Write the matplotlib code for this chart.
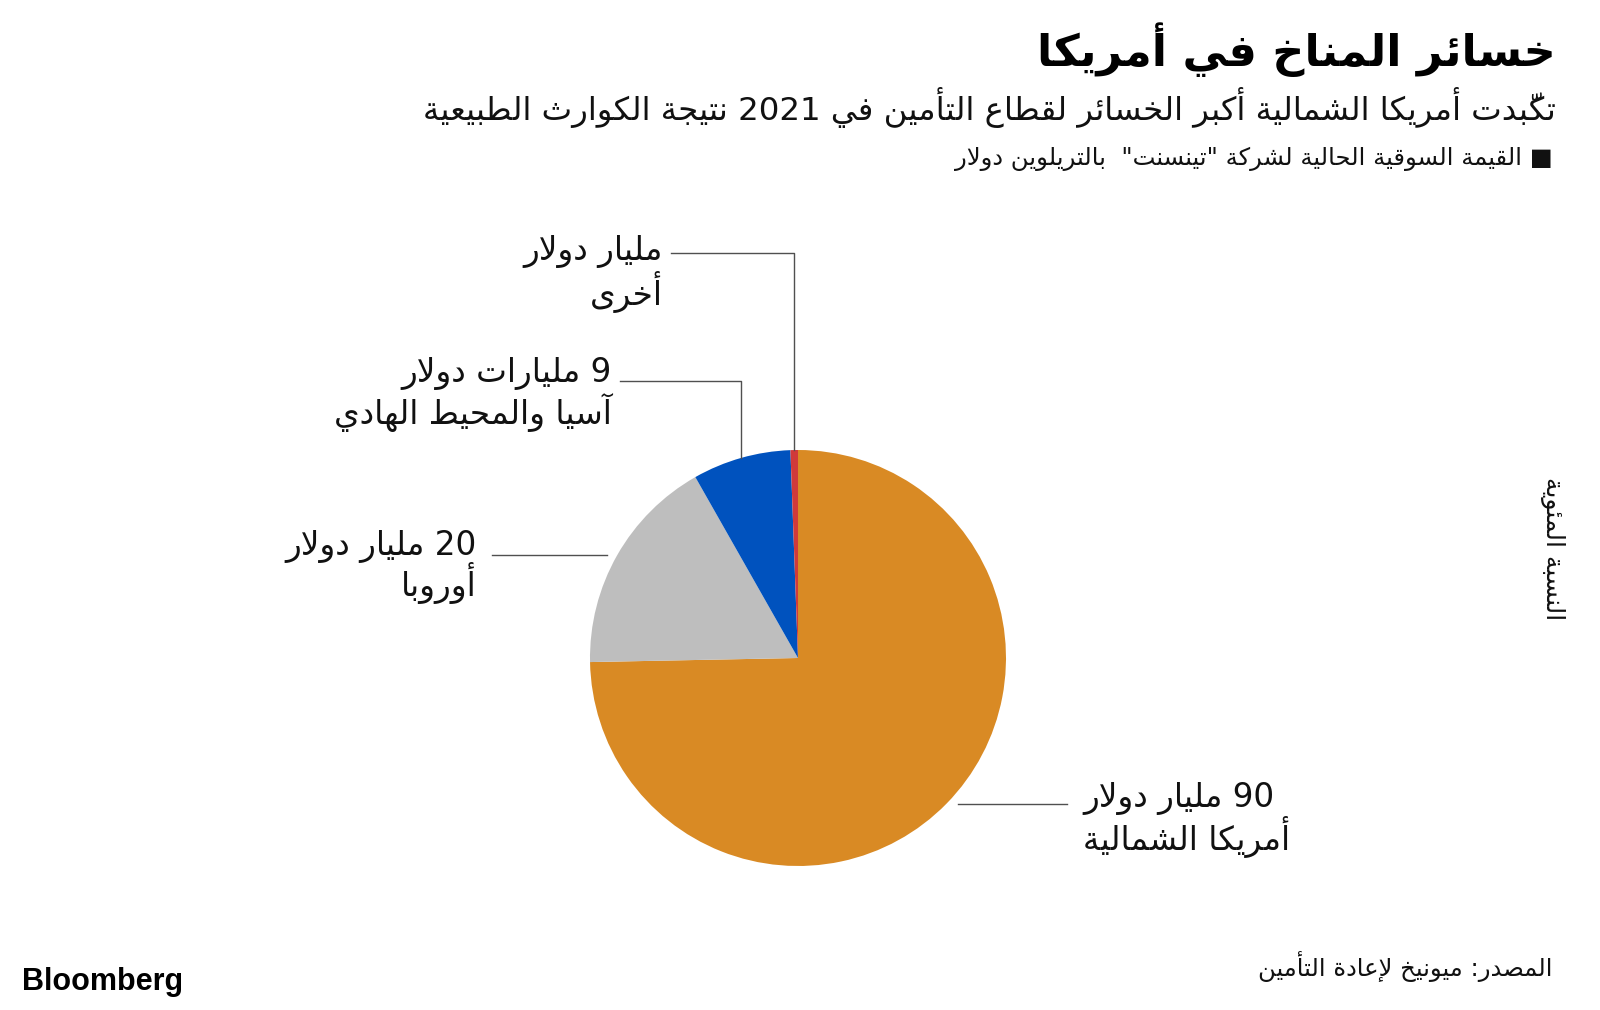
import matplotlib
matplotlib.use("Agg")
import matplotlib.pyplot as plt
import numpy as np

# ---- data ----
regions = ["أمريكا الشمالية", "أوروبا", "آسيا والمحيط الهادي", "أخرى"]
value_labels = ["90 مليار دولار", "20 مليار دولار", "9 مليارات دولار", "مليار دولار"]
losses = [90, 20.6, 9.2, 0.7]   # billion USD
colors = ["#D98A24", "#BEBEBE", "#0052BE", "#D03A3A"]

title = "خسائر المناخ في أمريكا"
subtitle = "تكبّدت أمريكا الشمالية أكبر الخسائر لقطاع التأمين في 2021 نتيجة الكوارث الطبيعية"
legend_text = "■ القيمة السوقية الحالية لشركة \"تينسنت\"  بالتريلوين دولار"
side_text = "النسبة المئوية"
source = "المصدر: ميونيخ لإعادة التأمين"

# ---- minimal arabic shaping + visual reordering (matplotlib does no shaping) ----
_counts = [('ء', 1), ('آ', 2), ('أ', 2), ('ؤ', 2), ('إ', 2), ('ئ', 4), ('ا', 2), ('ب', 4),
           ('ة', 2), ('ت', 4), ('ث', 4), ('ج', 4), ('ح', 4), ('خ', 4), ('د', 2), ('ذ', 2),
           ('ر', 2), ('ز', 2), ('س', 4), ('ش', 4), ('ص', 4), ('ض', 4), ('ط', 4), ('ظ', 4),
           ('ع', 4), ('غ', 4), ('ف', 4), ('ق', 4), ('ك', 4), ('ل', 4), ('م', 4), ('ن', 4),
           ('ه', 4), ('و', 2), ('ى', 2), ('ي', 4)]
FORMS = {}
code = 0xFE80
for ch, n in _counts:
    FORMS[ch] = [chr(code + i) for i in range(n)]
    code += n
LAM_ALEF = {'آ': 0xFEF5, 'أ': 0xFEF7, 'إ': 0xFEF9, 'ا': 0xFEFB}
MARKS = set('\u064B\u064C\u064D\u064E\u064F\u0650\u0651\u0652')


def _nforms(u):
    if u.startswith('LA'):
        return 2
    return len(FORMS.get(u, []))


def ar(text):
    units = []
    i = 0
    while i < len(text):
        c = text[i]
        if c in MARKS and units:
            units[-1][1] += c
        elif c == 'ل' and i + 1 < len(text) and text[i + 1] in LAM_ALEF:
            units.append(['LA' + text[i + 1], ''])
            i += 1
        else:
            units.append([c, ''])
        i += 1
    glyphs = []
    for k, (u, m) in enumerate(units):
        n = _nforms(u)
        if n == 0:
            glyphs.append(u + m)
            continue
        prev = units[k - 1][0] if k > 0 else ''
        nxt = units[k + 1][0] if k + 1 < len(units) else ''
        jp = _nforms(prev) == 4 and n >= 2
        jn = n == 4 and _nforms(nxt) >= 2
        if u.startswith('LA'):
            g = chr(LAM_ALEF[u[2]] + (1 if jp else 0))
        elif n == 1:
            g = FORMS[u][0]
        elif n == 2:
            g = FORMS[u][1 if jp else 0]
        else:
            g = FORMS[u][{(False, False): 0, (True, False): 1,
                          (False, True): 2, (True, True): 3}[(jp, jn)]]
        glyphs.append(g + m)
    # visual order: reverse, keeping latin/digit runs left-to-right
    runs = []
    for g in glyphs:
        if g.isascii() and g.isalnum():
            if runs and runs[-1][0]:
                runs[-1][1] += g
            else:
                runs.append([True, g])
        else:
            runs.append([False, g])
    return ''.join(r[1] for r in reversed(runs))


W, H = 1600, 1010
AR = 'DejaVu Sans'
fig = plt.figure(figsize=(W / 100, H / 100), dpi=100)
fig.patch.set_facecolor('white')
ax = fig.add_axes([0, 0, 1, 1])


def Y(y):
    return H - y


cx, cy, r = 798, Y(658), 208
wedges, _ = ax.pie(losses, colors=colors, startangle=90, counterclock=False,
                   center=(cx, cy), radius=r, frame=True,
                   wedgeprops=dict(linewidth=0))
ax.set_xlim(0, W)
ax.set_ylim(0, H)
ax.set_aspect('equal')
ax.axis('off')

# anchor points on the rim (mid angle of each wedge)
mids = [np.deg2rad((w.theta1 + w.theta2) / 2) for w in wedges]
anch = [(cx + r * np.cos(a), cy + r * np.sin(a)) for a in mids]

lc = '#505050'
lw = 1.0
fs = 23.5
label_pos = [None, None, (612, 374, 'right'), (663, 251, 'right')]
gaps = [38, 37, 39, 41]

# North America: horizontal to the right
x0, y0 = anch[0]
ax.plot([x0 + 11, 1067], [y0, y0], color=lc, lw=lw)
label_pos[0] = (1083, Y(y0) - 5, 'left')
# Europe: horizontal to the left
x1, y1 = anch[1]
ax.plot([x1 - 10, 492], [y1, y1], color=lc, lw=lw)
label_pos[1] = (477, Y(y1) - 9, 'right')
# Asia: up, then left
x2, y2 = anch[2]
ax.plot([x2, x2, 620], [y2, Y(381), Y(381)], color=lc, lw=lw)
# Other: up, then left
x3, y3 = anch[3]
ax.plot([x3, x3, 671], [y3, Y(253), Y(253)], color=lc, lw=lw)

for i in range(len(regions)):
    lx, ly, ha = label_pos[i]
    ax.text(lx, Y(ly), ar(value_labels[i]), ha=ha, va='center', fontsize=fs,
            family=AR, color='#111111')
    ax.text(lx, Y(ly + gaps[i]), ar(regions[i]), ha=ha, va='center', fontsize=fs,
            family=AR, color='#111111')

# titles
ax.text(1556, Y(50), ar(title), ha='right', va='center', fontsize=32,
        family=AR, fontweight='bold', color='black')
ax.text(1556, Y(107), ar(subtitle), ha='right', va='center', fontsize=23.3,
        family=AR, color='#111111')
ax.text(1553, Y(159), ar(legend_text), ha='right', va='center', fontsize=17.5,
        family=AR, color='#111111')

# right-hand vertical label
ax.text(1553, Y(549), ar(side_text), ha='center', va='center', fontsize=18,
        family=AR, rotation=-90, color='#111111')

# footer
ax.text(1553, Y(967), ar(source), ha='right', va='center', fontsize=17.5,
        family=AR, color='#111111')
ax.text(22, Y(982), 'Bloomberg', ha='left', va='center', fontsize=22,
        family='Liberation Sans', fontweight='bold', color='black')

fig.savefig('out.png', dpi=100, facecolor='white')
